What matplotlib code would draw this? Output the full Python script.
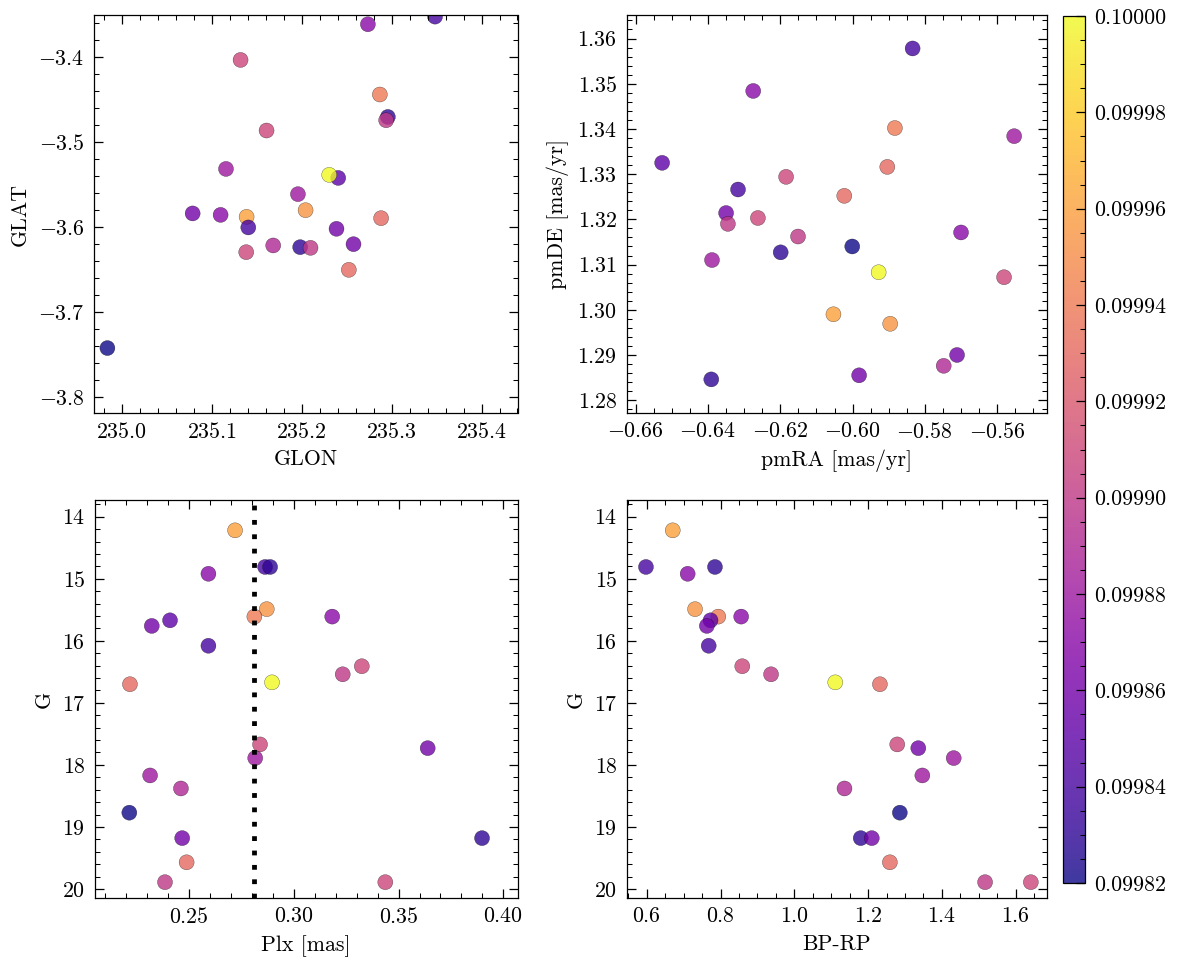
import numpy as np
import matplotlib
matplotlib.use("Agg")
import matplotlib.pyplot as plt
from matplotlib.ticker import FormatStrFormatter, AutoMinorLocator
from matplotlib.colors import Normalize

plt.rcParams.update({
    "font.family": "serif",
    "font.serif": ["cmr10", "DejaVu Serif"],
    "mathtext.fontset": "cm",
    "axes.formatter.use_mathtext": True,
    "font.size": 10.5,
    "axes.linewidth": 0.6,
    "xtick.direction": "in",
    "ytick.direction": "in",
    "xtick.top": True,
    "ytick.right": True,
    "xtick.minor.visible": True,
    "ytick.minor.visible": True,
    "xtick.major.size": 4.2,
    "ytick.major.size": 4.2,
    "xtick.minor.size": 2.2,
    "ytick.minor.size": 2.2,
    "xtick.major.width": 0.6,
    "ytick.major.width": 0.6,
    "xtick.minor.width": 0.5,
    "ytick.minor.width": 0.5,
    "xtick.major.pad": 4.0,
    "ytick.major.pad": 4.5,
})

# ---- data (one entry per star) ----
glon = [235.1387, 235.3483, 235.2736, 235.2958, 235.2043, 235.2869, 235.2406, 235.0787,
        235.1098, 235.1406, 235.1320, 235.2939, 235.2306, 235.2883, 235.1609, 235.2387,
        235.1158, 235.1958, 235.1683, 234.9839, 235.1983, 235.2576, 235.2524, 235.2098,
        235.1383]
glat = [-3.5882, -3.3525, -3.3615, -3.4706, -3.5804, -3.4442, -3.5424, -3.5842,
        -3.5859, -3.6007, -3.4035, -3.4745, -3.5388, -3.5898, -3.4866, -3.6023,
        -3.5318, -3.5615, -3.6219, -3.7427, -3.6239, -3.6204, -3.6506, -3.6247,
        -3.6298]
pmra = [-0.6053, -0.5834, -0.6275, -0.6391, -0.5896, -0.5883, -0.6527, -0.6350,
        -0.5700, -0.6317, -0.6184, -0.6345, -0.5928, -0.5904, -0.6262, -0.5711,
        -0.5553, -0.6389, -0.5748, -0.6001, -0.6199, -0.5982, -0.6023, -0.6151,
        -0.5581]
pmde = [1.2990, 1.3578, 1.3484, 1.2846, 1.2969, 1.3402, 1.3325, 1.3214,
        1.3171, 1.3266, 1.3294, 1.3190, 1.3083, 1.3316, 1.3203, 1.2900,
        1.3384, 1.3110, 1.2876, 1.3140, 1.3127, 1.2855, 1.3252, 1.3162,
        1.3072]
plx = [0.2721, 0.2864, 0.2594, 0.2888, 0.2872, 0.2813, 0.2411, 0.2324,
       0.3184, 0.2594, 0.3325, 0.3234, 0.2897, 0.2220, 0.2840, 0.3639,
       0.2817, 0.2316, 0.2463, 0.2217, 0.3898, 0.2469, 0.2490, 0.2387,
       0.3437]
gmag = [14.22, 14.81, 14.92, 14.81, 15.49, 15.61, 15.67, 15.76,
        15.61, 16.08, 16.41, 16.54, 16.67, 16.70, 17.67, 17.73,
        17.89, 18.17, 18.38, 18.77, 19.18, 19.18, 19.57, 19.89,
        19.89]
bprp = [0.6705, 0.598, 0.711, 0.785, 0.731, 0.794, 0.773, 0.763,
        0.856, 0.768, 0.859, 0.937, 1.111, 1.232, 1.279, 1.336,
        1.432, 1.347, 1.136, 1.286, 1.180, 1.210, 1.259, 1.517,
        1.641]
prob = [0.09996, 0.09984, 0.09987, 0.09983, 0.099955, 0.09994, 0.09985, 0.09986,
        0.09987, 0.09984, 0.09991, 0.09990, 0.10000, 0.09993, 0.09991, 0.09986,
        0.09988, 0.09988, 0.09989, 0.09982, 0.09983, 0.09986, 0.09993, 0.09990,
        0.09991]
plx_ref = 0.2813
cbar_ticks = [0.09982, 0.09984, 0.09986, 0.09988, 0.09990, 0.09992, 0.09994, 0.09996, 0.09998, 0.10000]

W, H = 1177, 965
dpi = 150
fig = plt.figure(figsize=(W / dpi, H / dpi), dpi=dpi)

def px_axes(l, t, r, b):
    return fig.add_axes([l / W, 1 - b / H, (r - l) / W, (b - t) / H])

ax1 = px_axes(94, 15, 517.5, 413.3)
ax2 = px_axes(626.7, 15, 1046.7, 413.3)
ax3 = px_axes(94.7, 499.7, 517.7, 898.3)
ax4 = px_axes(626.7, 499.7, 1046.7, 898.3)
cax = px_axes(1063, 16, 1085, 883)

norm = Normalize(vmin=0.09982, vmax=0.10000)
kw = dict(c=prob, cmap="plasma", norm=norm, s=52, alpha=0.8,
          edgecolors="k", linewidths=0.15)

sc = ax1.scatter(glon, glat, **kw)
ax1.set_xlabel("GLON")
ax1.set_ylabel("GLAT")
ax1.set_xlim(234.969, 235.44)
ax1.set_ylim(-3.8195, -3.3506)

ax2.scatter(pmra, pmde, **kw)
ax2.set_xlabel("pmRA [mas/yr]")
ax2.set_ylabel("pmDE [mas/yr]")
ax2.set_xlim(-0.6625, -0.5463)
ax2.set_ylim(1.2771, 1.3652)

ax3.scatter(plx, gmag, **kw)
ax3.axvline(plx_ref, color="k", linestyle=(0, (1, 2)), linewidth=2.3)
ax3.set_xlabel("Plx [mas]")
ax3.set_ylabel("G")
ax3.set_xlim(0.2052, 0.4068)
ax3.set_ylim(20.15, 13.726)

ax4.scatter(bprp, gmag, **kw)
ax4.set_xlabel("BP-RP")
ax4.set_ylabel("G")
ax4.set_xlim(0.5458, 1.684)
ax4.set_ylim(20.15, 13.726)

cb = fig.colorbar(sc, cax=cax)
cb.set_ticks(cbar_ticks)
cb.ax.yaxis.set_major_formatter(FormatStrFormatter("%.5f"))
cb.ax.yaxis.set_minor_locator(AutoMinorLocator(4))
cb.ax.tick_params(which="both", direction="in", right=True, left=False)
cb.outline.set_linewidth(0.6)

fig.savefig("out.png", dpi=dpi)
